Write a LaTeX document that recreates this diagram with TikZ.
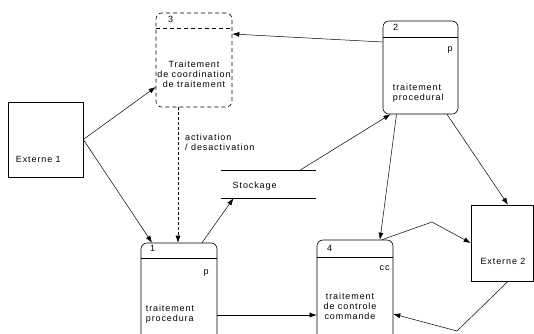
\documentclass[tikz,border=0pt]{standalone}
\usepackage{fontspec}
\setmainfont[LetterSpace=10]{Liberation Sans}
\usetikzlibrary{arrows.meta}
\begin{document}
\begin{tikzpicture}[
    x=1pt, y=-1pt,
    every node/.style={font=\fontsize{9}{10}\selectfont, inner sep=0pt},
    procBox/.style={draw, rounded corners=6pt, minimum width=76pt, line width=0.6pt},
    extBox/.style={draw, line width=0.6pt},
    flow/.style={->, line width=0.5pt, >={Latex[length=7pt,width=5pt]}},
        ]
    \useasboundingbox (0,0) rectangle (534,333);
    \clip (0,0) rectangle (534,333);

    % processus
    \node[procBox, minimum height=94pt, dash pattern=on 4pt off 3pt] (p3) at (194,60) {};
    \node[procBox, minimum width=75pt, minimum height=93pt] (p2) at (420.5,67.5) {};
    \node[procBox, minimum height=102pt] (p1) at (179,294) {};
    \node[procBox, minimum height=100pt] (p4) at (355,290) {};

    \draw[line width=0.6pt, dash pattern=on 4pt off 3pt] ([yshift=-16]p3.north west) -- ([yshift=-16]p3.north east);
    \draw[line width=0.6pt] ([yshift=-17]p2.north west) -- ([yshift=-17]p2.north east);
    \draw[line width=0.6pt] ([yshift=-16]p1.north west) -- ([yshift=-16]p1.north east);
    \draw[line width=0.6pt] ([yshift=-18]p4.north west) -- ([yshift=-18]p4.north east);

    \node (num3) at ([xshift=15, yshift=-7]p3.north west) {3};
    \node[align=center] (name3) at ([yshift=-14]p3.center) {Traitement\\de coordination\\de traitement};

    \node (num2) at ([xshift=13, yshift=-7]p2.north west) {2};
    \node[anchor=east] (type2) at ([xshift=-5.5, yshift=-29]p2.north east) {p};
    \node[anchor=west, align=left] (name2) at ([xshift=10, yshift=-26]p2.west) {traitement\\procedural};

    \node (num1) at ([xshift=12, yshift=-6]p1.north west) {1};
    \node[anchor=east] (type1) at ([xshift=-8.5, yshift=-30]p1.north east) {p};
    \node[anchor=west, align=left] (name1) at ([xshift=5, yshift=-20]p1.west) {traitement\\procedura};

    \node (num4) at ([xshift=13, yshift=-9]p4.north west) {4};
    \node[anchor=east] (type4) at ([xshift=-3.5, yshift=-28]p4.north east) {cc};
    \node[align=center] (name4) at ([xshift=-5, yshift=-16]p4.center) {traitement\\de controle\\commande};

    % entites externes
    \node[extBox, minimum width=75pt, minimum height=75pt] (ext1) at (45.5,139.5) {};
    \node[anchor=west] (ext1txt) at ([xshift=8, yshift=-19.5]ext1.west) {Externe 1};
    \node[extBox, minimum width=62pt, minimum height=76pt] (ext2) at (502,243) {};
    \node (ext2txt) at ([xshift=1, yshift=-18]ext2.center) {Externe 2};

    % stockage
    \node[minimum width=95pt, minimum height=28pt] (stock) at (268.5,184) {};
    \draw[line width=0.6pt] (stock.north west) -- (stock.north east) (stock.south west) -- (stock.south east);
    \node[anchor=west] (stocktxt) at ([xshift=-36, yshift=-2]stock.center) {Stockage};

    \node[anchor=west, align=left] (actlabel) at (185,142) {activation\\/ desactivation};

    \coordinate (bendA) at (432,222);
    \coordinate (bendB) at (457,331);

    \draw[flow] (ext1.east) -- ([yshift=-27]p3.west);
    \draw[flow] (ext1.east) -- ([xshift=-27]p1.north);
    \draw[flow, dash pattern=on 3pt off 2pt] ([xshift=-16]p3.south) -- ([xshift=-1]p1.north);
    \draw[flow] ([xshift=23]p1.north) -- ([xshift=-35]stock.south);
    \draw[flow] ([xshift=32]stock.north) -- ([xshift=-30]p2.south);
    \draw[flow] ([xshift=-24]p2.south) -- ([xshift=25]p4.north);
    \draw[flow] ([yshift=25.5]p2.west) -- ([yshift=26]p3.east);
    \draw[flow] ([xshift=26.5]p2.south) -- ([xshift=6]ext2.north);
    \draw[flow] ([xshift=27]p4.north) -- (bendA) -- (ext2.west);
    \draw[flow] ([xshift=6]ext2.south) -- (bendB) -- ([yshift=-24]p4.east);
    \draw[flow] ([yshift=-21]p1.east) -- ([yshift=-25]p4.west);
\end{tikzpicture}
\end{document}
